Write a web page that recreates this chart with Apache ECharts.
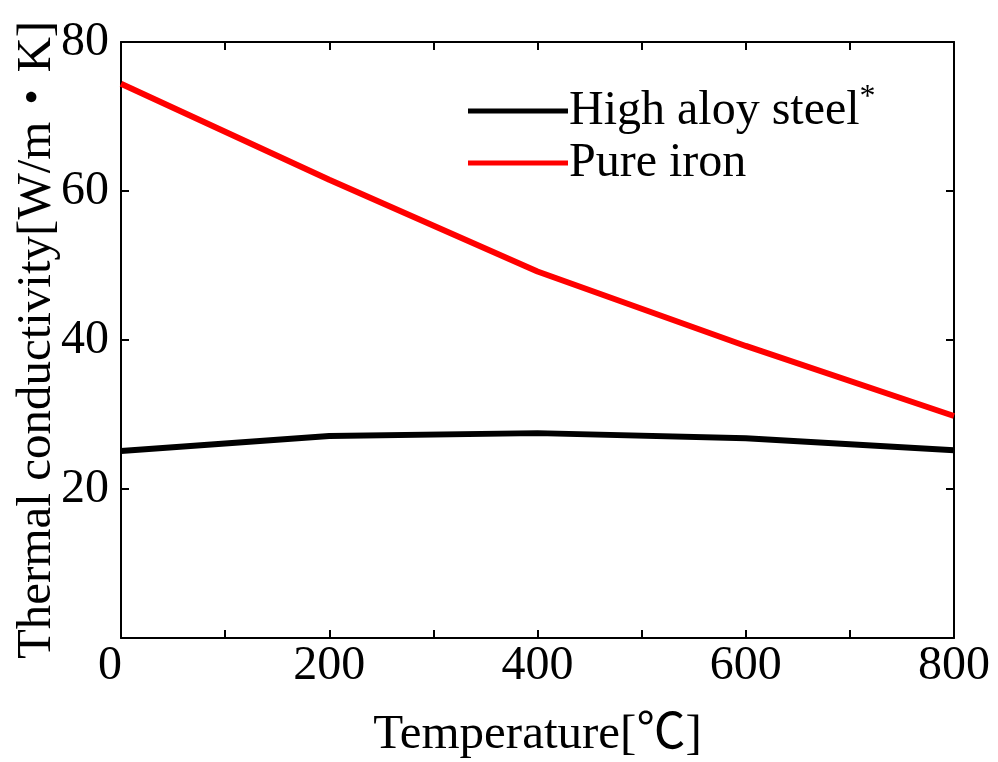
<!DOCTYPE html>
<html>
<head>
<meta charset="utf-8">
<script src="https://cdn.jsdelivr.net/npm/echarts@6/dist/echarts.min.js"></script>
<style>
  html, body { margin: 0; padding: 0; background: #fff; }
  #chart { width: 998px; height: 762px; }
</style>
</head>
<body>
<div id="chart"></div>
<script>
// Temperature points (°C)
const temperatures = [0, 200, 400, 600, 800];
// Thermal conductivity, W/(m·K)
const highAlloySteel = [25.1, 27.1, 27.5, 26.8, 25.2];
const pureIron = [74.4, 61.5, 49.2, 39.2, 29.8];
const seriesNames = ['High aloy steel', 'Pure iron'];

const FONT = '"Liberation Serif", "Times New Roman", "Noto Sans CJK JP", serif';
const AXIS_COLOR = '#000';

function pairs(xs, ys) {
  return xs.map((x, i) => [x, ys[i]]);
}

const chart = echarts.init(document.getElementById('chart'), null, { renderer: 'canvas' });

const frameAxis = {
  axisLine: { show: true, onZero: false, lineStyle: { color: AXIS_COLOR, width: 2 } },
  axisTick: { show: true, inside: true, length: 8, lineStyle: { color: AXIS_COLOR, width: 2 } },
  splitLine: { show: false },
};

chart.setOption({
  animation: false,
  backgroundColor: '#fff',
  grid: { left: 121, right: 44, top: 42, bottom: 124, containLabel: false, outerBoundsMode: 'none' },
  legend: {
    left: 463,
    top: 77,
    orient: 'vertical',
    itemWidth: 100,
    itemHeight: 5,
    itemGap: 4,
    icon: 'rect',
    data: seriesNames,
    formatter: name => name === seriesNames[0] ? name + '{sup|*}' : name,
    textStyle: {
      fontFamily: FONT,
      fontSize: 48,
      color: '#000',
      lineHeight: 48,
      padding: [0, 0, 0, -4],
      rich: {
        sup: { fontFamily: FONT, fontSize: 32, color: '#000', padding: [0, 0, 26, 0] }
      }
    }
  },
  xAxis: [
    Object.assign({}, frameAxis, {
      type: 'value',
      min: 0, max: 800, interval: 200,
      position: 'bottom',
      name: 'Temperature[℃]',
      nameLocation: 'middle',
      nameMoveOverlap: false,
      nameGap: 73,
      nameTextStyle: { fontFamily: FONT, fontSize: 49, color: '#000' },
      minorTick: { show: true, splitNumber: 2, length: 8, lineStyle: { color: AXIS_COLOR, width: 2 } },
      axisLabel: {
        fontFamily: FONT, fontSize: 48, color: '#000', margin: 4,
        formatter: v => v === 0 ? '{z|0}' : String(v),
        rich: { z: { fontFamily: FONT, fontSize: 48, color: '#000', padding: [0, 22, 0, 0] } }
      }
    }),
    Object.assign({}, frameAxis, {
      type: 'value',
      min: 0, max: 800, interval: 200,
      position: 'top',
      minorTick: { show: true, splitNumber: 2, length: 8, lineStyle: { color: AXIS_COLOR, width: 2 } },
      axisLabel: { show: false }
    })
  ],
  yAxis: [
    Object.assign({}, frameAxis, {
      type: 'value',
      min: 0, max: 80, interval: 20,
      position: 'left',
      name: 'Thermal conductivity[W/m・K]',
      nameLocation: 'middle',
      nameMoveOverlap: false,
      nameGap: 59,
      nameTextStyle: { fontFamily: FONT, fontSize: 49, color: '#000' },
      axisLabel: {
        fontFamily: FONT, fontSize: 48, color: '#000', margin: 12,
        formatter: v => v === 0 ? '' : String(v)
      }
    }),
    Object.assign({}, frameAxis, {
      type: 'value',
      min: 0, max: 80, interval: 20,
      position: 'right',
      axisLabel: { show: false }
    })
  ],
  series: [
    {
      name: seriesNames[0],
      type: 'line',
      data: pairs(temperatures, highAlloySteel),
      showSymbol: false,
      symbol: 'none',
      lineStyle: { color: '#000', width: 6 },
      itemStyle: { color: '#000' },
      z: 3
    },
    {
      name: seriesNames[1],
      type: 'line',
      data: pairs(temperatures, pureIron),
      showSymbol: false,
      symbol: 'none',
      lineStyle: { color: '#ff0000', width: 6 },
      itemStyle: { color: '#ff0000' },
      z: 3
    }
  ]
});
</script>
</body>
</html>
